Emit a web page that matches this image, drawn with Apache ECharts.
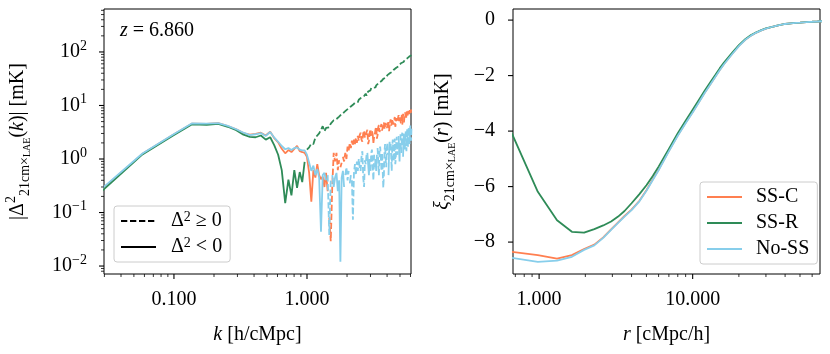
<!DOCTYPE html>
<html><head><meta charset="utf-8">
<script src="https://cdn.jsdelivr.net/npm/echarts@6/dist/echarts.min.js"></script>
<style>html,body{margin:0;padding:0;background:#fff}#c{width:830px;height:354px}</style>
</head><body><div id="c"></div><script>
// ---- data: left panel, cross power spectrum (signed; negative = Δ² < 0)
const kValues = [0.019,0.058,0.098,0.137,0.176,0.215,0.254,0.294,0.333,0.372,0.411,0.450,0.490,0.529,0.568,0.607,0.646,0.686,0.725,0.764,0.803,0.842,0.882,0.921,0.960,0.999,1.038,1.078,1.117,1.156,1.195,1.234,1.274,1.313,1.352,1.391,1.430,1.470,1.509,1.548,1.587,1.626,1.666,1.705,1.744,1.783,1.822,1.862,1.901,1.940,1.979,2.018,2.058,2.097,2.136,2.175,2.214,2.254,2.293,2.332,2.371,2.410,2.450,2.489,
 2.529,2.568,2.607,2.646,2.686,2.725,2.764,2.803,2.843,2.882,2.921,2.960,3.000,3.039,3.078,3.117,3.157,3.196,3.235,3.274,3.314,3.353,3.392,3.431,3.471,3.510,3.549,3.588,3.628,3.667,3.706,3.745,3.785,3.824,3.863,3.902,3.942,3.981,4.020,4.059,4.099,4.138,4.177,4.216,4.256,4.295,4.334,4.373,4.413,4.452,4.491,4.530,4.570,4.609,4.648,4.687,4.727,4.766,4.805,4.844,4.884,4.923,4.962,5.001,5.041,5.080,5.119,5.158,5.198,5.237,5.276,5.315,5.355,5.394,5.433,5.472,5.512,5.551,5.590,5.629,5.669,5.708,5.747,5.786,5.826,5.865,5.904,5.943,5.983,6.022,6.061,6.100];
const ssCPower = [-0.11,-1.25,-2.8,-4.6,-4.55,-4.7,-4.1,-3.6,-3.05,-2.85,-2.95,-3.1,-2.75,-3.25,-2.45,-2.05,-1.55,-1.28,-1.47,-1.35,-1.55,-1.75,-1.4,-1.35,-1.3,-1.1,
 -0.55,-0.16,-0.62,-0.45,-0.8,-0.5,-0.42,-0.47,-0.3,-0.55,-0.25,0.08,0.029,0.3,1.3,0.9,1.3,0.62,0.95,-0.7,-0.85,1.1,0.9,1.3,1.0,1.7,1.45,2.0,1.6,2.2,1.75,2.3,1.9,2.5,2.0,2.7,2.2,2.8,
 3.1,2.3,2.1,3.0,3.4,2.5,2.6,3.2,3.5,1.9,2.2,3.1,3.6,2.7,-3.3,-2.9,-2.0,-2.6,2.9,3.6,4.0,2.4,2.8,3.9,4.3,3.2,3.0,4.1,4.5,3.4,3.2,4.4,4.8,3.6,3.5,4.7,5.0,3.8,3.6,4.5,5.2,3.3,4.1,5.0,5.5,4.2,
 3.9,5.6,5.9,4.4,4.3,5.5,6.1,4.0,4.5,5.8,6.3,4.9,4.7,6.0,6.6,5.1,5.0,6.4,6.9,4.6,5.2,6.7,-4.4,-5.0,-7.0,-6.2,4.8,5.9,6.0,7.4,7.9,5.6,5.8,7.8,8.4,6.5,6.2,8.2,8.9,6.9,6.6,8.7,9.4,7.3,7.0,9.2];
const ssRPower = [-0.10,-1.22,-2.72,-4.45,-4.35,-4.55,-4.0,-3.45,-2.85,-2.6,-2.55,-2.75,-2.3,-2.55,-1.8,-1.2,-0.62,-0.15,-0.41,-0.21,-0.62,-0.29,-0.57,-0.37,-0.88,
 1.5,1.65,1.95,1.9,2.5,2.4,3.0,2.9,4.1,3.3,3.8,4.0,3.9,4.6,4.4,5.3,4.9,5.6,5.5,6.2,6.0,6.9,6.6,7.5,7.2,8.2,7.9,8.9,8.6,9.6,9.2,10.3,10.0,11.2,10.8,11.9,11.6,12.8,12.5,
 13.0,14.2,14.9,14.0,15.0,16.1,16.6,15.2,16.4,18.3,19.0,18.0,19.2,21.3,21.0,20.4,21.6,22.9,23.5,21.8,23.8,25.3,25.0,24.9,26.4,27.0,28.1,27.6,28.6,30.6,30.0,31.5,32.8,33.4,33.9,33.0,34.4,35.0,36.9,36.1,
 37.5,39.6,39.0,40.5,41.4,42.8,43.9,42.3,44.0,45.0,46.5,45.8,47.5,50.0,49.0,50.8,52.6,53.6,54.5,52.8,54.2,56.0,58.2,56.8,58.6,61.5,60.8,62.5,64.0,65.7,66.9,64.8,66.5,68.5,71.0,68.9,71.0,74.4,76.0,74.9,76.5,79.0,80.5,77.6,79.5,82.0,84.5,82.1,84.0,88.2,89.5,87.0];
const noSSPower = [-0.115,-1.27,-2.85,-4.65,-4.6,-4.7,-4.15,-3.6,-3.1,-2.8,-2.9,-3.05,-2.7,-3.2,-2.5,-2.1,-1.75,-1.52,-1.6,-1.47,-1.6,-1.65,-1.5,-1.45,-1.45,-1.2,
 -0.85,-0.6,-0.75,-0.5,-0.65,-0.45,-0.044,-0.5,-0.55,-0.4,0.5,0.038,0.4,-0.5,-0.3,-0.45,-0.55,-0.25,-0.4,-0.012,-0.45,-0.6,-0.3,0.5,0.7,0.4,0.6,-0.35,-0.5,0.4,0.073,0.55,0.8,0.5,0.9,0.6,1.0,0.7,
 0.6,1.1,1.4,0.45,0.3,0.95,0.8,1.2,-1.3,-0.8,-0.5,-1.0,0.6,1.3,1.5,0.7,0.4,1.2,-0.7,-1.0,-0.6,-1.2,1.6,0.9,0.5,1.5,1.7,1.1,0.6,1.3,1.2,0.29,0.5,1.4,1.9,1.0,0.7,1.6,2.0,1.2,-0.5,-1.3,-2.1,-1.6,
 1.9,1.1,0.6,1.8,2.3,1.3,0.9,1.9,2.4,0.8,1.0,2.0,2.6,1.4,1.2,2.2,-2.7,-1.5,-0.9,-2.0,2.9,1.6,1.3,2.5,3.1,1.8,-1.1,-2.4,-3.0,-1.7,1.5,2.8,3.3,2.1,1.4,3.0,3.6,2.2,1.7,3.2,3.9,2.4,1.9,3.5,4.2,2.6,2.2,3.8];

// ---- data: right panel, correlation function
const rValues = [0.654,0.981,1.308,1.635,1.962,2.289,2.616,2.943,3.27,3.6,4.0,4.5,5.0,5.5,6.0,7.0,8.0,9.0,10,11,12,13,14,15,16,18,20,22,24,26,28,30,33,36,40,45,50,55,60,65,70];
const ssCXi = [-8.35,-8.47,-8.60,-8.47,-8.25,-8.09,-7.83,-7.54,-7.29,-7.06,-6.83,-6.51,-6.13,-5.74,-5.39,-4.71,-4.15,-3.70,-3.31,-2.94,-2.61,-2.32,-2.05,-1.80,-1.58,-1.23,-0.93,-0.71,-0.56,-0.45,-0.37,-0.31,-0.24,-0.19,-0.14,-0.11,-0.09,-0.07,-0.06,-0.05,-0.04];
const ssRXi = [-4.0,-6.19,-7.21,-7.63,-7.66,-7.53,-7.40,-7.26,-7.08,-6.88,-6.60,-6.27,-5.95,-5.62,-5.28,-4.64,-4.08,-3.63,-3.23,-2.87,-2.54,-2.25,-1.99,-1.74,-1.53,-1.19,-0.90,-0.69,-0.54,-0.44,-0.36,-0.30,-0.24,-0.19,-0.14,-0.11,-0.09,-0.07,-0.06,-0.05,-0.04];
const noSSXi = [-8.56,-8.71,-8.67,-8.53,-8.28,-8.12,-7.85,-7.56,-7.31,-7.08,-6.85,-6.53,-6.15,-5.76,-5.41,-4.73,-4.17,-3.72,-3.33,-2.96,-2.62,-2.33,-2.06,-1.81,-1.59,-1.24,-0.94,-0.71,-0.56,-0.45,-0.37,-0.31,-0.24,-0.19,-0.14,-0.11,-0.09,-0.07,-0.06,-0.05,-0.04];

// ---- tick values
const kMajorTicks = [0.1, 1];
const kMinorTicks = [0.03,0.04,0.05,0.06,0.07,0.08,0.09,0.2,0.3,0.4,0.5,0.6,0.7,0.8,0.9,2,3,4,5,6];
const powMajorTicks = [0.01,0.1,1,10,100];
const powMinorTicks = [0.008,0.009,0.02,0.03,0.04,0.05,0.06,0.07,0.08,0.09,0.2,0.3,0.4,0.5,0.6,0.7,0.8,0.9,2,3,4,5,6,7,8,9,20,30,40,50,60,70,80,90,200,300,400,500,600];
const rMajorTicks = [1, 10];
const rMinorTicks = [0.7,0.8,0.9,2,3,4,5,6,7,8,9,20,30,40,50,60];
const xiMajorTicks = [-8,-6,-4,-2,0];
const seriesNames = ['SS-C','SS-R','No-SS'];
const redshiftText = '{i|z} = 6.860';

const F = "'Liberation Serif','DejaVu Serif',serif";
const COLORS = {'SS-C':'#FF7F50','SS-R':'#2E8B57','No-SS':'#87CEEB'};
const DASH = [6.3, 2.7];
const LW = 1.8;
const L = {xMin:0.0298, xMax:6.05, yMin:0.0071, yMax:635};
const R = {xMin:0.676, xMax:67.5, yMin:-9.15, yMax:0.4};

function isDecade(v){ const e = Math.log10(v); return Math.abs(e - Math.round(e)) < 1e-6; }
function supLabel(v){ if(!isDecade(v)) return ''; const e = Math.round(Math.log10(v)); return '{b|10}{s|' + (e < 0 ? '\u2212' + (-e) : e) + '}'; }

const labelRich = {
  b:{fontFamily:F,fontSize:20,color:'#000',lineHeight:26},
  s:{fontFamily:F,fontSize:14,color:'#000',verticalAlign:'top',lineHeight:14}
};
const nameRich = {
  b:{fontFamily:F,fontSize:20,color:'#000'},
  i:{fontFamily:F,fontSize:20,color:'#000',fontStyle:'italic'},
  sup:{fontFamily:F,fontSize:14,color:'#000',verticalAlign:'top',lineHeight:15},
  sub:{fontFamily:F,fontSize:14,color:'#000',verticalAlign:'bottom',lineHeight:15},
  subs:{fontFamily:F,fontSize:10,color:'#000',verticalAlign:'bottom',lineHeight:14}
};
const nameStyle = {fontFamily:F,fontSize:20,color:'#000',lineHeight:28,rich:nameRich};
const lblBase = {fontFamily:F,fontSize:20,color:'#000'};

function tickSeries(xIdx, yIdx, vals, dir, anchor, len, w){
  return {type:'custom', xAxisIndex:xIdx, yAxisIndex:yIdx, silent:true, z:6, clip:false, animation:false,
    data: vals.map(v => dir === 'x' ? [v, anchor] : [anchor, v]),
    renderItem: (p, api) => {
      const c = api.coord([api.value(0), api.value(1)]);
      const shape = dir === 'x' ? {x1:c[0],y1:c[1],x2:c[0],y2:c[1]+len} : {x1:c[0]-len,y1:c[1],x2:c[0],y2:c[1]};
      return {type:'line', shape:shape, style:{stroke:'#000', lineWidth:w}};
    }};
}

function split(vals, positive){
  return kValues.map((k, i) => {
    const v = vals[i];
    const ok = positive ? v >= 0 : v < 0;
    return [k, ok ? Math.abs(v) : null];
  });
}

const series = [];
const powerByName = {'SS-C':ssCPower,'SS-R':ssRPower,'No-SS':noSSPower};
const xiByName = {'SS-C':ssCXi,'SS-R':ssRXi,'No-SS':noSSXi};
seriesNames.forEach(n => {
  series.push({type:'line', name:n+' pos', xAxisIndex:0, yAxisIndex:0, data:split(powerByName[n], true), symbol:'none', connectNulls:false,
    lineStyle:{color:COLORS[n], width:LW, type:DASH}, itemStyle:{color:COLORS[n]}, animation:false, z:2});
  series.push({type:'line', name:n+' neg', xAxisIndex:0, yAxisIndex:0, data:split(powerByName[n], false), symbol:'none', connectNulls:false,
    lineStyle:{color:COLORS[n], width:LW, type:'solid'}, itemStyle:{color:COLORS[n]}, animation:false, z:2});
});
series.push({type:'line', name:'pos', xAxisIndex:0, yAxisIndex:0, data:[], symbol:'none', lineStyle:{color:'#000', width:LW, type:DASH}, itemStyle:{color:'#000'}});
series.push({type:'line', name:'neg', xAxisIndex:0, yAxisIndex:0, data:[], symbol:'none', lineStyle:{color:'#000', width:LW, type:'solid'}, itemStyle:{color:'#000'}});
seriesNames.forEach(n => {
  series.push({type:'line', name:n, xAxisIndex:1, yAxisIndex:1, data:rValues.map((r,i)=>[r, xiByName[n][i]]), symbol:'none',
    lineStyle:{color:COLORS[n], width:LW}, itemStyle:{color:COLORS[n]}, animation:false, z:2});
});
series.push(tickSeries(0,0,kMajorTicks,'x',L.yMin,5,1.1));
series.push(tickSeries(0,0,kMinorTicks,'x',L.yMin,3,0.8));
series.push(tickSeries(0,0,powMajorTicks,'y',L.xMin,5,1.1));
series.push(tickSeries(0,0,powMinorTicks,'y',L.xMin,3,0.8));
series.push(tickSeries(1,1,rMajorTicks,'x',R.yMin,5,1.1));
series.push(tickSeries(1,1,rMinorTicks,'x',R.yMin,3,0.8));
series.push(tickSeries(1,1,xiMajorTicks,'y',R.xMin,5,1.1));

const legendCommon = {orient:'vertical', padding:[4,8,4,6], itemGap:4, itemWidth:35, itemHeight:14,
  backgroundColor:'rgba(255,255,255,0.8)', borderColor:'#cccccc', borderWidth:1, borderRadius:3, selectedMode:false,
  itemStyle:{opacity:0}};

const option = {
  animation:false,
  backgroundColor:'#fff',
  title:{text:redshiftText, left:115, top:16, padding:5,
    textStyle:{fontFamily:F,fontSize:20,fontWeight:'normal',color:'#000',rich:{i:{fontFamily:F,fontSize:20,fontStyle:'italic',color:'#000'}}}},
  grid:[
    {left:104, top:9, width:307, height:265, show:true, borderColor:'#000', borderWidth:1, backgroundColor:'transparent', containLabel:false, outerBoundsMode:'none'},
    {left:513, top:9, width:307, height:265, show:true, borderColor:'#000', borderWidth:1, backgroundColor:'transparent', containLabel:false, outerBoundsMode:'none'}
  ],
  xAxis:[
    {gridIndex:0, type:'log', min:L.xMin, max:L.xMax, axisLine:{show:false}, axisTick:{show:false}, splitLine:{show:false}, minorTick:{show:false}, minorSplitLine:{show:false},
     axisLabel:Object.assign({margin:16, formatter:v => isDecade(v) ? v.toFixed(3) : ''}, lblBase),
     name:'{i|k} [h/cMpc]', nameLocation:'middle', nameGap:47, nameTextStyle:nameStyle},
    {gridIndex:1, type:'log', min:R.xMin, max:R.xMax, axisLine:{show:false}, axisTick:{show:false}, splitLine:{show:false}, minorTick:{show:false}, minorSplitLine:{show:false},
     axisLabel:Object.assign({margin:16, formatter:v => isDecade(v) ? v.toFixed(3) : ''}, lblBase),
     name:'{i|r} [cMpc/h]', nameLocation:'middle', nameGap:47, nameTextStyle:nameStyle}
  ],
  yAxis:[
    {gridIndex:0, type:'log', min:L.yMin, max:L.yMax, axisLine:{show:false}, axisTick:{show:false}, splitLine:{show:false}, minorTick:{show:false}, minorSplitLine:{show:false},
     axisLabel:Object.assign({margin:17, formatter:supLabel, rich:labelRich}, lblBase),
     name:'|{b|Δ}{sup|2}{sub|21cm×}{subs|LAE}{b|(}{i|k}{b|)}| [mK]', nameLocation:'middle', nameGap:72, nameRotate:90, nameTextStyle:nameStyle},
    {gridIndex:1, type:'value', min:R.yMin, max:R.yMax, axisLine:{show:false}, axisTick:{show:false}, splitLine:{show:false},
     axisLabel:Object.assign({margin:18, formatter:v => (Math.abs(v/2 - Math.round(v/2)) < 1e-6) ? (v < 0 ? '\u2212' + Math.abs(v) : String(Math.abs(v))) : ''}, lblBase),
     name:'{i|ξ}{sub|21cm×}{subs|LAE}{b|(}{i|r}{b|)} [mK]', nameLocation:'middle', nameGap:56, nameRotate:90, nameTextStyle:nameStyle}
  ],
  legend:[
    Object.assign({}, legendCommon, {data:['pos','neg'], left:114, top:206,
      formatter:n => n === 'pos' ? '{t|Δ}{s|2}{t| ≥ 0}' : '{t|Δ}{s|2}{t| < 0}',
      textStyle:{fontFamily:F,fontSize:20,color:'#000',lineHeight:22,padding:[0,0,0,10],
        rich:{t:{fontFamily:F,fontSize:20,color:'#000',lineHeight:22}, s:{fontFamily:F,fontSize:14,color:'#000',verticalAlign:'top',lineHeight:13}}}}),
    Object.assign({}, legendCommon, {data:seriesNames, left:700, top:182,
      textStyle:{fontFamily:F,fontSize:20,color:'#000',lineHeight:22,padding:[0,0,0,9]}})
  ],
  series:series
};

const chart = echarts.init(document.getElementById('c'), null, {renderer:'canvas', width:830, height:354});
chart.setOption(option);
</script></body></html>
